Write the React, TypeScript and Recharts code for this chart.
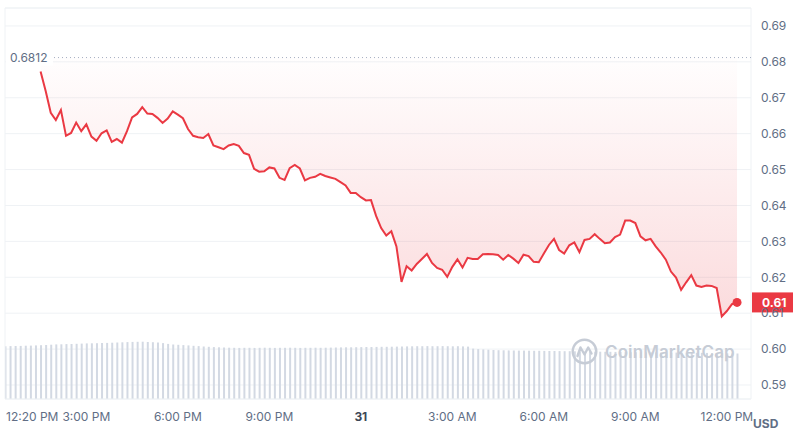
import React from 'react';
import {
  ComposedChart,
  Area,
  Line,
  Bar,
  XAxis,
  YAxis,
  CartesianGrid,
  ReferenceLine,
  ReferenceDot,
} from 'recharts';

// CoinMarketCap-like palette
const COLORS = {
  price: '#ea3943',
  grid: '#eff2f5',
  axis: '#616e85',
  day: '#3d4656',
  volume: '#d3d9e3',
  openLine: '#a6b0c3',
  watermark: '#c6ccd6',
};

// rows are 10 minutes apart, counted in minutes after 12:00 PM on the 30th
const START_MINUTE = 20;
const STEP_MINUTES = 10;
// the price line starts 7 rows (70 min) after the volume bars
const PRICE_START_ROW = 7;

const OPEN_PRICE = 0.6812;
const OPEN_LABEL = '0.6812';
const LAST_LABEL = '0.61';

const prices = [
  0.6773, 0.6719, 0.6658, 0.6638, 0.6666, 0.6594, 0.6602, 0.6631, 0.6607, 0.6626,
  0.6592, 0.658, 0.6601, 0.6609, 0.6577, 0.6585, 0.6575, 0.6607, 0.6645, 0.6655,
  0.6674, 0.6656, 0.6655, 0.6644, 0.663, 0.6642, 0.6662, 0.6653, 0.6643, 0.6613,
  0.6594, 0.659, 0.6588, 0.6599, 0.6567, 0.6562, 0.6557, 0.6567, 0.6571, 0.6566,
  0.6546, 0.6541, 0.6502, 0.6494, 0.6495, 0.6506, 0.6503, 0.6477, 0.6471, 0.6504,
  0.6513, 0.6503, 0.647, 0.6477, 0.648, 0.6488, 0.6482, 0.6478, 0.6474, 0.6465,
  0.6456, 0.6435, 0.6435, 0.6423, 0.6414, 0.6415, 0.6371, 0.6337, 0.6316, 0.6328,
  0.6286, 0.6187, 0.6231, 0.6219, 0.6237, 0.6251, 0.6265, 0.624, 0.6226, 0.6221,
  0.6201, 0.6229, 0.625, 0.6227, 0.6254, 0.6251, 0.6251, 0.6264, 0.6265, 0.6264,
  0.6262, 0.6249, 0.6262, 0.6252, 0.624, 0.6263, 0.6259, 0.6243, 0.6242, 0.6266,
  0.629, 0.6307, 0.6276, 0.6266, 0.6289, 0.6297, 0.627, 0.6304, 0.6307, 0.632,
  0.6307, 0.6295, 0.6297, 0.6312, 0.6319, 0.6358, 0.6358, 0.6351, 0.6314, 0.6303,
  0.6307, 0.6286, 0.6269, 0.6249, 0.6216, 0.6199, 0.6165, 0.6186, 0.6206, 0.6177,
  0.6173, 0.6177, 0.6176, 0.617, 0.6091, 0.6106, 0.6125, 0.613,
];

const volumes = [
  52.8, 52.9, 53.0, 53.1, 53.3, 53.4, 53.6, 53.8, 54.0, 54.3,
  54.6, 54.7, 54.9, 55.0, 55.2, 55.4, 55.6, 55.7, 55.8, 56.0,
  56.1, 56.3, 56.5, 56.7, 56.9, 57.1, 57.2, 57.3, 57.0, 56.8,
  56.5, 55.9, 55.1, 54.5, 54.2, 53.9, 53.6, 53.2, 52.9, 52.5,
  52.2, 51.9, 51.7, 51.5, 51.3, 51.2, 51.1, 51.2, 51.2, 51.1,
  51.2, 51.3, 51.2, 51.1, 51.2, 51.2, 51.3, 51.2, 51.1, 51.2,
  51.2, 51.3, 51.2, 51.3, 51.4, 51.5, 51.6, 51.7, 51.7, 51.8,
  51.9, 52.0, 52.0, 52.1, 52.2, 52.2, 52.3, 52.4, 52.5, 52.6,
  52.7, 52.8, 52.8, 52.9, 52.8, 52.8, 52.9, 52.8, 52.7, 52.8,
  52.6, 52.4, 50.4, 49.9, 49.6, 49.3, 49.0, 48.8, 48.7, 48.6,
  48.5, 48.4, 48.4, 48.3, 48.2, 48.2, 48.1, 48.0, 48.0, 47.9,
  47.8, 47.8, 47.7, 47.6, 47.5, 47.5, 47.4, 47.3, 47.2, 47.2,
  47.1, 47.0, 46.9, 46.8, 46.8, 46.7, 46.7, 46.6, 46.6, 46.5,
  46.5, 46.4, 46.4, 46.3, 46.3, 46.2, 46.2, 46.2, 46.1, 46.0,
  45.9, 45.8, 45.7, 45.6, 45.5,
];

const xTicks = [20, 180, 360, 540, 720, 900, 1080, 1260, 1440];
const xTickLabels = ['12:20 PM', '3:00 PM', '6:00 PM', '9:00 PM', '31', '3:00 AM', '6:00 AM', '9:00 AM', '12:00 PM'];
const yTicks = [0.59, 0.6, 0.61, 0.62, 0.63, 0.64, 0.65, 0.66, 0.67, 0.68, 0.69];

const X_DOMAIN: [number, number] = [20, 1487.5];
const Y_DOMAIN: [number, number] = [0.5861, 0.695];

const chartData = volumes.map((volume, i) => {
  const p = i - PRICE_START_ROW;
  return {
    minute: START_MINUTE + i * STEP_MINUTES,
    volume,
    price: p >= 0 && p < prices.length ? prices[p] : null,
  };
});
const lastRow = chartData[chartData.length - 1];

function TimeTick({ x, y, payload }: any) {
  const idx = xTicks.indexOf(payload.value);
  const label = xTickLabels[idx];
  const isDay = label === '31';
  const isFirst = idx === 0;
  return (
    <text
      x={isFirst ? x + 1 : x}
      y={y}
      dy="0.71em"
      textAnchor={isFirst ? 'start' : 'middle'}
      fill={isDay ? COLORS.day : COLORS.axis}
      fontSize={12}
      fontWeight={isDay ? 700 : 400}
    >
      {label}
    </text>
  );
}

// "0.6812" sits on a white patch at the left end of the dotted line
function OpenLabel({ viewBox }: any) {
  if (!viewBox) return null;
  return (
    <g>
      <rect x={viewBox.x + 1} y={viewBox.y - 8} width={47} height={16} fill="#fff" />
      <text x={viewBox.x + 5} y={viewBox.y} dy="0.35em" fontSize={12} fill={COLORS.axis}>
        {OPEN_LABEL}
      </text>
    </g>
  );
}

// red price tag over the right axis
function LastPriceTag({ viewBox }: any) {
  if (!viewBox) return null;
  const left = viewBox.x + viewBox.width;
  return (
    <g>
      <rect x={left + 1} y={viewBox.y - 10} width={41} height={20} fill={COLORS.price} />
      <text x={left + 11} y={viewBox.y} dy="0.35em" fontSize={12} fontWeight={700} fill="#fff">
        {LAST_LABEL}
      </text>
    </g>
  );
}

function Watermark() {
  return (
    <div
      style={{
        position: 'absolute',
        left: 571,
        top: 338,
        display: 'flex',
        alignItems: 'center',
        color: COLORS.watermark,
        pointerEvents: 'none',
      }}
    >
      <svg width={27} height={27} viewBox="0 0 27 27">
        <circle cx={13.5} cy={13.5} r={11.8} fill="none" stroke={COLORS.watermark} strokeWidth={2.4} />
        <path
          d="M6.5 18 L9.5 9.5 L13.5 16.5 L17.2 9.5 L20.5 15.5"
          fill="none"
          stroke={COLORS.watermark}
          strokeWidth={2.4}
          strokeLinejoin="round"
          strokeLinecap="round"
        />
      </svg>
      <span style={{ marginLeft: 7, fontSize: 17, fontWeight: 600, letterSpacing: 0.1 }}>CoinMarketCap</span>
    </div>
  );
}

export default function App() {
  return (
    <div
      style={{
        position: 'absolute',
        left: 0,
        top: 0,
        width: 800,
        height: 442,
        background: '#fff',
        fontFamily: 'Inter, sans-serif',
      }}
    >
      <ComposedChart
        width={800}
        height={442}
        data={chartData}
        margin={{ top: 8, right: 0, left: 5, bottom: 0 }}
      >
        <defs>
          <linearGradient id="priceFill" x1="0" y1="0" x2="0" y2="1">
            <stop offset="0%" stopColor={COLORS.price} stopOpacity={0.01} />
            <stop offset="100%" stopColor={COLORS.price} stopOpacity={0.3} />
          </linearGradient>
        </defs>
        <CartesianGrid stroke={COLORS.grid} vertical={false} />
        <XAxis
          dataKey="minute"
          type="number"
          domain={X_DOMAIN}
          ticks={xTicks}
          interval={0}
          tick={<TimeTick />}
          tickLine={false}
          axisLine={false}
          tickSize={0}
          tickMargin={13}
          height={43}
          allowDataOverflow
        />
        <YAxis
          orientation="right"
          domain={Y_DOMAIN}
          ticks={yTicks}
          interval={0}
          tickFormatter={(v: number) => v.toFixed(2)}
          tick={{ fontSize: 12, fill: COLORS.axis }}
          tickLine={false}
          axisLine={false}
          tickSize={0}
          tickMargin={10}
          width={49}
          allowDataOverflow
        />
        <YAxis yAxisId="vol" hide domain={[0, 391]} />
        {/* plot frame */}
        <ReferenceLine x={X_DOMAIN[0]} stroke={COLORS.grid} />
        <ReferenceLine x={X_DOMAIN[1]} stroke={COLORS.grid} />
        <ReferenceLine y={Y_DOMAIN[1]} stroke={COLORS.grid} />
        <ReferenceLine y={Y_DOMAIN[0]} stroke={COLORS.grid} />
        <Bar
          yAxisId="vol"
          dataKey="volume"
          fill={COLORS.volume}
          barSize={2}
          isAnimationActive={false}
        />
        <Area
          type="linear"
          dataKey="price"
          baseValue={OPEN_PRICE}
          stroke="none"
          fill="url(#priceFill)"
          isAnimationActive={false}
        />
        <ReferenceLine
          y={OPEN_PRICE}
          stroke={COLORS.openLine}
          strokeDasharray="1 3"
          label={<OpenLabel />}
        />
        <Line
          type="linear"
          dataKey="price"
          stroke={COLORS.price}
          strokeWidth={2}
          dot={false}
          activeDot={false}
          isAnimationActive={false}
        />
        <ReferenceDot x={lastRow.minute} y={lastRow.price as number} r={4.5} fill={COLORS.price} stroke="none" />
        <ReferenceLine y={lastRow.price as number} stroke="none" label={<LastPriceTag />} />
      </ComposedChart>
      <Watermark />
      <div
        style={{
          position: 'absolute',
          left: 753,
          top: 416,
          fontSize: 12,
          fontWeight: 700,
          color: COLORS.axis,
        }}
      >
        USD
      </div>
    </div>
  );
}
